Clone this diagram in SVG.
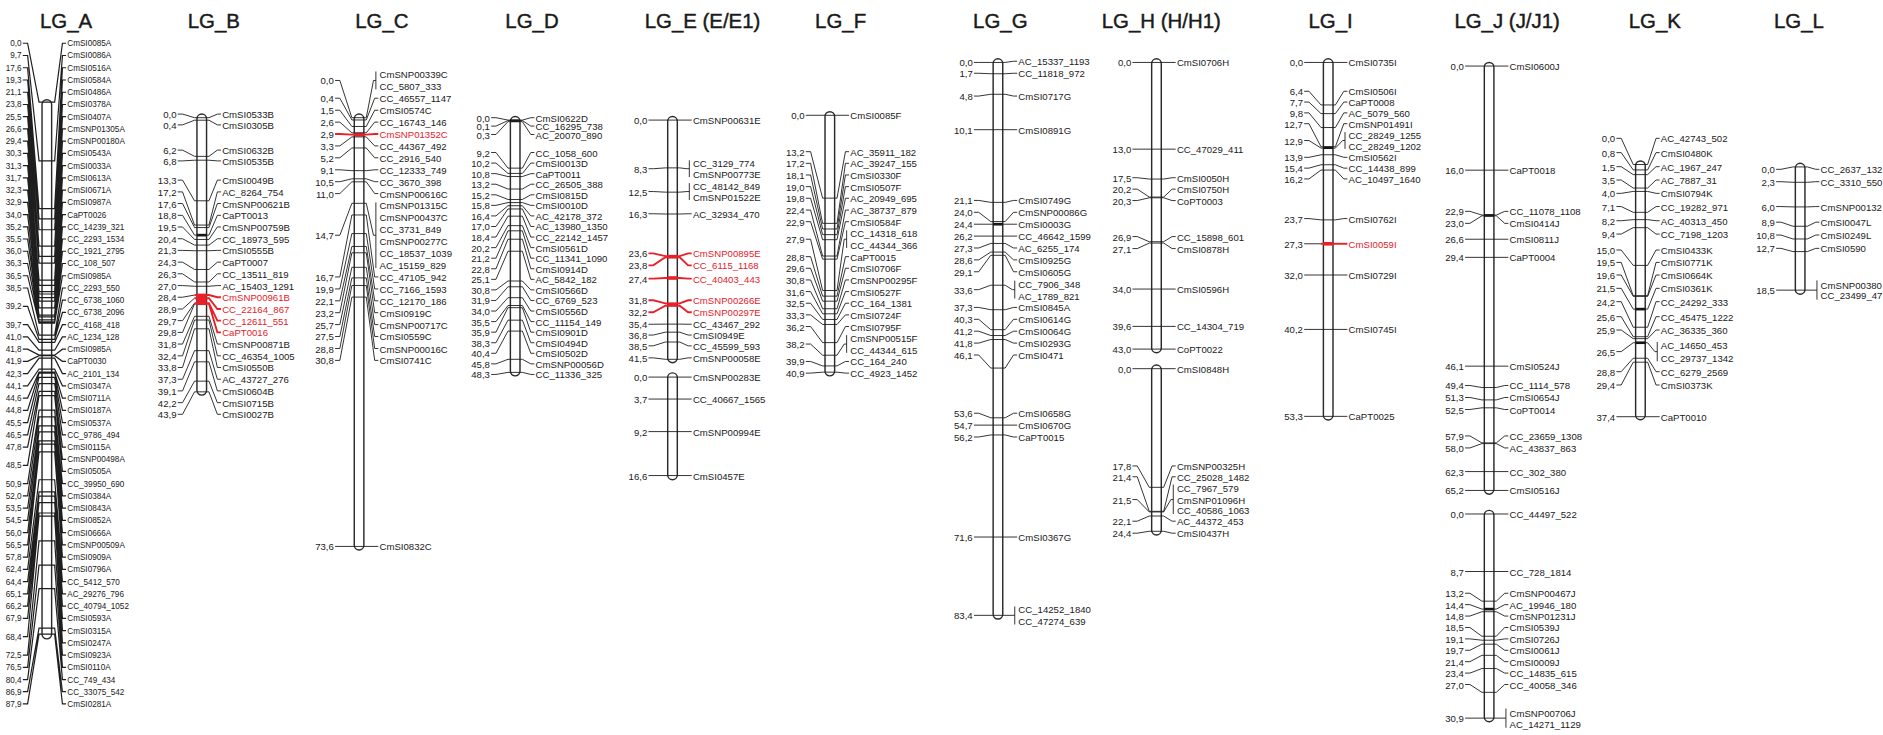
<svg xmlns="http://www.w3.org/2000/svg" width="1883" height="735" viewBox="0 0 1883 735">
<style>
.bar{fill:#fff;stroke:#2a2a2a;stroke-width:1.2}
.c{fill:none;stroke:#1e1e1e;stroke-width:0.75}
.ca{fill:none;stroke:#1e1e1e;stroke-width:1}
.cr{fill:none;stroke:#e8202a;stroke-width:1.6}
.tk{stroke:#111;stroke-width:2.2}
.tr{stroke:#e8202a;stroke-width:3}
text{font-family:"Liberation Sans",Arial,sans-serif;font-size:8px;fill:#1a1a1a;dominant-baseline:central}
.s{font-size:6.8px}
.l{text-anchor:end}
.red{fill:#e8202a}
.ttl{font-size:17px;text-anchor:middle;dominant-baseline:auto;stroke:#1a1a1a;stroke-width:0.35}
</style>
<rect width="1883" height="735" fill="#fff"/>
<g transform="scale(1.2009)">
<g id="LG_A">
<text class="ttl" x="55" y="23">LG_A</text>
<rect class="bar" x="35" y="83" width="8" height="449" rx="4"/>
<text class="s l"><tspan x="18" y="36">0,0</tspan><tspan x="18" y="46.2">9,7</tspan><tspan x="18" y="56.4">17,6</tspan><tspan x="18" y="66.6">19,3</tspan><tspan x="18" y="76.8">21,1</tspan><tspan x="18" y="87">23,8</tspan><tspan x="18" y="97.1">25,5</tspan><tspan x="18" y="107.3">26,6</tspan><tspan x="18" y="117.5">29,4</tspan><tspan x="18" y="127.7">30,3</tspan><tspan x="18" y="137.9">31,3</tspan><tspan x="18" y="148.1">31,7</tspan><tspan x="18" y="158.3">32,3</tspan><tspan x="18" y="168.5">32,9</tspan><tspan x="18" y="178.7">34,0</tspan><tspan x="18" y="188.9">35,2</tspan><tspan x="18" y="199">35,5</tspan><tspan x="18" y="209.2">36,0</tspan><tspan x="18" y="219.4">36,3</tspan><tspan x="18" y="229.6">36,5</tspan><tspan x="18" y="239.8">38,5</tspan><tspan x="18" y="255.1">39,2</tspan><tspan x="18" y="270.4">39,7</tspan><tspan x="18" y="280.6">41,0</tspan><tspan x="18" y="290.8">41,8</tspan><tspan x="18" y="300.9">41,9</tspan><tspan x="18" y="311.1">42,3</tspan><tspan x="18" y="321.3">44,1</tspan><tspan x="18" y="331.5">44,6</tspan><tspan x="18" y="341.7">44,8</tspan><tspan x="18" y="351.9">45,5</tspan><tspan x="18" y="362.1">46,5</tspan><tspan x="18" y="372.3">47,8</tspan><tspan x="18" y="387.5">48,5</tspan><tspan x="18" y="402.8">50,9</tspan><tspan x="18" y="413">52,0</tspan><tspan x="18" y="423.2">53,5</tspan><tspan x="18" y="433.4">54,5</tspan><tspan x="18" y="443.6">56,0</tspan><tspan x="18" y="453.8">56,5</tspan><tspan x="18" y="464">57,8</tspan><tspan x="18" y="474.2">62,4</tspan><tspan x="18" y="484.3">64,4</tspan><tspan x="18" y="494.5">65,1</tspan><tspan x="18" y="504.7">66,2</tspan><tspan x="18" y="514.9">67,9</tspan><tspan x="18" y="530.2">68,4</tspan><tspan x="18" y="545.5">72,5</tspan><tspan x="18" y="555.7">76,5</tspan><tspan x="18" y="565.9">80,4</tspan><tspan x="18" y="576">86,9</tspan><tspan x="18" y="586.2">87,9</tspan></text>
<text class="s"><tspan x="56" y="36">CmSI0085A</tspan><tspan x="56" y="46.2">CmSI0086A</tspan><tspan x="56" y="56.4">CmSI0516A</tspan><tspan x="56" y="66.6">CmSI0584A</tspan><tspan x="56" y="76.8">CmSI0486A</tspan><tspan x="56" y="87">CmSI0378A</tspan><tspan x="56" y="97.1">CmSI0407A</tspan><tspan x="56" y="107.3">CmSNP01305A</tspan><tspan x="56" y="117.5">CmSNP00180A</tspan><tspan x="56" y="127.7">CmSI0543A</tspan><tspan x="56" y="137.9">CmSI0033A</tspan><tspan x="56" y="148.1">CmSI0613A</tspan><tspan x="56" y="158.3">CmSI0671A</tspan><tspan x="56" y="168.5">CmSI0987A</tspan><tspan x="56" y="178.7">CaPT0026</tspan><tspan x="56" y="188.9">CC_14239_321</tspan><tspan x="56" y="199">CC_2293_1534</tspan><tspan x="56" y="209.2">CC_1921_2795</tspan><tspan x="56" y="219.4">CC_108_507</tspan><tspan x="56" y="229.6">CmSI0985A</tspan><tspan x="56" y="239.8">CC_2293_550</tspan><tspan x="56" y="250">CC_6738_1060</tspan><tspan x="56" y="260.2">CC_6738_2096</tspan><tspan x="56" y="270.4">CC_4168_418</tspan><tspan x="56" y="280.6">AC_1234_128</tspan><tspan x="56" y="290.8">CmSI0985A</tspan><tspan x="56" y="300.9">CaPT0030</tspan><tspan x="56" y="311.1">AC_2101_134</tspan><tspan x="56" y="321.3">CmSI0347A</tspan><tspan x="56" y="331.5">CmSI0711A</tspan><tspan x="56" y="341.7">CmSI0187A</tspan><tspan x="56" y="351.9">CmSI0537A</tspan><tspan x="56" y="362.1">CC_9786_494</tspan><tspan x="56" y="372.3">CmSI0115A</tspan><tspan x="56" y="382.5">CmSNP00498A</tspan><tspan x="56" y="392.6">CmSI0505A</tspan><tspan x="56" y="402.8">CC_39950_690</tspan><tspan x="56" y="413">CmSI0384A</tspan><tspan x="56" y="423.2">CmSI0843A</tspan><tspan x="56" y="433.4">CmSI0852A</tspan><tspan x="56" y="443.6">CmSI0666A</tspan><tspan x="56" y="453.8">CmSNP00509A</tspan><tspan x="56" y="464">CmSI0909A</tspan><tspan x="56" y="474.2">CmSI0796A</tspan><tspan x="56" y="484.3">CC_5412_570</tspan><tspan x="56" y="494.5">AC_29276_796</tspan><tspan x="56" y="504.7">CC_40794_1052</tspan><tspan x="56" y="514.9">CmSI0593A</tspan><tspan x="56" y="525.1">CmSI0315A</tspan><tspan x="56" y="535.3">CmSI0247A</tspan><tspan x="56" y="545.5">CmSI0923A</tspan><tspan x="56" y="555.7">CmSI0110A</tspan><tspan x="56" y="565.9">CC_749_434</tspan><tspan x="56" y="576">CC_33075_542</tspan><tspan x="56" y="586.2">CmSI0281A</tspan></text>
</g>
<g id="LG_B">
<text class="ttl" x="178" y="23">LG_B</text>
<rect class="bar" x="164" y="95" width="8" height="234" rx="4"/>
<line class="tk" x1="164" y1="195.8" x2="172" y2="195.8"/>
<rect x="164" y="244.5" width="8" height="9.5" fill="#e8202a"/>
<text class="l"><tspan x="147" y="95">0,0</tspan><tspan x="147" y="104">0,4</tspan><tspan x="147" y="125">6,2</tspan><tspan x="147" y="134">6,8</tspan><tspan x="147" y="150">13,3</tspan><tspan x="147" y="159.8">17,2</tspan><tspan x="147" y="169.5">17,6</tspan><tspan x="147" y="179.3">18,8</tspan><tspan x="147" y="189">19,5</tspan><tspan x="147" y="198.8">20,4</tspan><tspan x="147" y="208.5">21,3</tspan><tspan x="147" y="218.3">24,3</tspan><tspan x="147" y="228">26,3</tspan><tspan x="147" y="237.8">27,0</tspan><tspan x="147" y="247.5">28,4</tspan><tspan x="147" y="257.3">28,9</tspan><tspan x="147" y="267">29,7</tspan><tspan x="147" y="276.8">29,8</tspan><tspan x="147" y="286.5">31,8</tspan><tspan x="147" y="296.3">32,4</tspan><tspan x="147" y="306">33,8</tspan><tspan x="147" y="315.8">37,3</tspan><tspan x="147" y="325.5">39,1</tspan><tspan x="147" y="335.3">42,2</tspan><tspan x="147" y="345">43,9</tspan></text>
<text><tspan x="185" y="95">CmSI0533B</tspan><tspan x="185" y="104">CmSI0305B</tspan><tspan x="185" y="125">CmSI0632B</tspan><tspan x="185" y="134">CmSI0535B</tspan><tspan x="185" y="150">CmSI0049B</tspan><tspan x="185" y="159.8">AC_8264_754</tspan><tspan x="185" y="169.5">CmSNP00621B</tspan><tspan x="185" y="179.3">CaPT0013</tspan><tspan x="185" y="189">CmSNP00759B</tspan><tspan x="185" y="198.8">CC_18973_595</tspan><tspan x="185" y="208.5">CmSI0555B</tspan><tspan x="185" y="218.3">CaPT0007</tspan><tspan x="185" y="228">CC_13511_819</tspan><tspan x="185" y="237.8">AC_15403_1291</tspan><tspan x="185" y="286.5">CmSNP00871B</tspan><tspan x="185" y="296.3">CC_46354_1005</tspan><tspan x="185" y="306">CmSI0550B</tspan><tspan x="185" y="315.8">AC_43727_276</tspan><tspan x="185" y="325.5">CmSI0604B</tspan><tspan x="185" y="335.3">CmSI0715B</tspan><tspan x="185" y="345">CmSI0027B</tspan></text>
<text class="red"><tspan x="185" y="247.5">CmSNP00961B</tspan><tspan x="185" y="257.3">CC_22164_867</tspan><tspan x="185" y="267">CC_12611_551</tspan><tspan x="185" y="276.8">CaPT0016</tspan></text>
</g>
<g id="LG_C">
<text class="ttl" x="318" y="23">LG_C</text>
<rect class="bar" x="295" y="95" width="8" height="363" rx="4"/>
<line class="tr" x1="295" y1="112.1" x2="303" y2="112.1"/>
<text class="l"><tspan x="278" y="67">0,0</tspan><tspan x="278" y="81.8">0,4</tspan><tspan x="278" y="91.8">1,5</tspan><tspan x="278" y="101.7">2,6</tspan><tspan x="278" y="111.6">2,9</tspan><tspan x="278" y="121.5">3,3</tspan><tspan x="278" y="131.4">5,2</tspan><tspan x="278" y="141.4">9,1</tspan><tspan x="278" y="151.3">10,5</tspan><tspan x="278" y="161.2">11,0</tspan><tspan x="278" y="195.9">14,7</tspan><tspan x="278" y="230.6">16,7</tspan><tspan x="278" y="240.6">19,9</tspan><tspan x="278" y="250.5">22,1</tspan><tspan x="278" y="260.4">23,2</tspan><tspan x="278" y="270.3">25,7</tspan><tspan x="278" y="280.2">27,5</tspan><tspan x="278" y="290.2">28,8</tspan><tspan x="278" y="300.1">30,8</tspan><tspan x="278" y="455">73,6</tspan></text>
<text><tspan x="316" y="62">CmSNP00339C</tspan><tspan x="316" y="71.9">CC_5807_333</tspan><tspan x="316" y="81.8">CC_46557_1147</tspan><tspan x="316" y="91.8">CmSI0574C</tspan><tspan x="316" y="101.7">CC_16743_146</tspan><tspan x="316" y="121.5">CC_44367_492</tspan><tspan x="316" y="131.4">CC_2916_540</tspan><tspan x="316" y="141.4">CC_12333_749</tspan><tspan x="316" y="151.3">CC_3670_398</tspan><tspan x="316" y="161.2">CmSNP00616C</tspan><tspan x="316" y="171.1">CmSNP01315C</tspan><tspan x="316" y="181">CmSNP00437C</tspan><tspan x="316" y="191">CC_3731_849</tspan><tspan x="316" y="200.9">CmSNP00277C</tspan><tspan x="316" y="210.8">CC_18537_1039</tspan><tspan x="316" y="220.7">AC_15159_829</tspan><tspan x="316" y="230.6">CC_47105_942</tspan><tspan x="316" y="240.6">CC_7166_1593</tspan><tspan x="316" y="250.5">CC_12170_186</tspan><tspan x="316" y="260.4">CmSI0919C</tspan><tspan x="316" y="270.3">CmSNP00717C</tspan><tspan x="316" y="280.2">CmSI0559C</tspan><tspan x="316" y="290.2">CmSNP00016C</tspan><tspan x="316" y="300.1">CmSI0741C</tspan><tspan x="316" y="455">CmSI0832C</tspan></text>
<text class="red"><tspan x="316" y="111.6">CmSNP01352C</tspan></text>
</g>
<g id="LG_D">
<text class="ttl" x="443" y="23">LG_D</text>
<rect class="bar" x="425" y="97" width="8" height="216" rx="4"/>
<line class="tk" x1="425" y1="100.6" x2="433" y2="100.6"/>
<text class="l"><tspan x="408" y="98">0,0</tspan><tspan x="408" y="105">0,1</tspan><tspan x="408" y="112">0,3</tspan><tspan x="408" y="127">9,2</tspan><tspan x="408" y="135.8">10,2</tspan><tspan x="408" y="144.6">10,8</tspan><tspan x="408" y="153.4">13,2</tspan><tspan x="408" y="162.2">15,2</tspan><tspan x="408" y="171">15,8</tspan><tspan x="408" y="179.8">16,4</tspan><tspan x="408" y="188.6">17,0</tspan><tspan x="408" y="197.4">18,4</tspan><tspan x="408" y="206.2">20,2</tspan><tspan x="408" y="215">21,2</tspan><tspan x="408" y="223.8">22,8</tspan><tspan x="408" y="232.6">25,1</tspan><tspan x="408" y="241.4">30,8</tspan><tspan x="408" y="250.2">31,9</tspan><tspan x="408" y="259">34,0</tspan><tspan x="408" y="267.8">35,5</tspan><tspan x="408" y="276.6">35,9</tspan><tspan x="408" y="285.4">38,3</tspan><tspan x="408" y="294.2">40,4</tspan><tspan x="408" y="303">45,8</tspan><tspan x="408" y="311.8">48,3</tspan></text>
<text><tspan x="446" y="98">CmSI0622D</tspan><tspan x="446" y="105">CC_16295_738</tspan><tspan x="446" y="112">AC_20070_890</tspan><tspan x="446" y="127">CC_1058_600</tspan><tspan x="446" y="135.8">CmSI0013D</tspan><tspan x="446" y="144.6">CaPT0011</tspan><tspan x="446" y="153.4">CC_26505_388</tspan><tspan x="446" y="162.2">CmSI0815D</tspan><tspan x="446" y="171">CmSI0010D</tspan><tspan x="446" y="179.8">AC_42178_372</tspan><tspan x="446" y="188.6">AC_13980_1350</tspan><tspan x="446" y="197.4">CC_22142_1457</tspan><tspan x="446" y="206.2">CmSI0561D</tspan><tspan x="446" y="215">CC_11341_1090</tspan><tspan x="446" y="223.8">CmSI0914D</tspan><tspan x="446" y="232.6">AC_5842_182</tspan><tspan x="446" y="241.4">CmSI0566D</tspan><tspan x="446" y="250.2">CC_6769_523</tspan><tspan x="446" y="259">CmSI0556D</tspan><tspan x="446" y="267.8">CC_11154_149</tspan><tspan x="446" y="276.6">CmSI0901D</tspan><tspan x="446" y="285.4">CmSI0494D</tspan><tspan x="446" y="294.2">CmSI0502D</tspan><tspan x="446" y="303">CmSNP00056D</tspan><tspan x="446" y="311.8">CC_11336_325</tspan></text>
</g>
<g id="LG_E">
<text class="ttl" x="585" y="23">LG_E (E/E1)</text>
<rect class="bar" x="556" y="97" width="8" height="205" rx="4"/>
<rect class="bar" x="556" y="310.5" width="8" height="89" rx="4"/>
<line class="tr" x1="556" y1="213.7" x2="564" y2="213.7"/>
<line class="tr" x1="556" y1="231.5" x2="564" y2="231.5"/>
<line class="tr" x1="556" y1="253.6" x2="564" y2="253.6"/>
<text class="l"><tspan x="539" y="100">0,0</tspan><tspan x="539" y="140.5">8,3</tspan><tspan x="539" y="159.5">12,5</tspan><tspan x="539" y="178">16,3</tspan><tspan x="539" y="211">23,6</tspan><tspan x="539" y="221">23,8</tspan><tspan x="539" y="232">27,4</tspan><tspan x="539" y="250">31,8</tspan><tspan x="539" y="260">32,2</tspan><tspan x="539" y="270">35,4</tspan><tspan x="539" y="279">36,8</tspan><tspan x="539" y="288">38,5</tspan><tspan x="539" y="298">41,5</tspan><tspan x="539" y="314">0,0</tspan><tspan x="539" y="332.3">3,7</tspan><tspan x="539" y="359.4">9,2</tspan><tspan x="539" y="396">16,6</tspan></text>
<text><tspan x="577" y="100">CmSNP00631E</tspan><tspan x="577" y="136">CC_3129_774</tspan><tspan x="577" y="145">CmSNP00773E</tspan><tspan x="577" y="155">CC_48142_849</tspan><tspan x="577" y="164">CmSNP01522E</tspan><tspan x="577" y="178">AC_32934_470</tspan><tspan x="577" y="270">CC_43467_292</tspan><tspan x="577" y="279">CmSI0949E</tspan><tspan x="577" y="288">CC_45599_593</tspan><tspan x="577" y="298">CmSNP00058E</tspan><tspan x="577" y="314">CmSNP00283E</tspan><tspan x="577" y="332.3">CC_40667_1565</tspan><tspan x="577" y="359.4">CmSNP00994E</tspan><tspan x="577" y="396">CmSI0457E</tspan></text>
<text class="red"><tspan x="577" y="211">CmSNP00895E</tspan><tspan x="577" y="221">CC_6115_1168</tspan><tspan x="577" y="232">CC_40403_443</tspan><tspan x="577" y="250">CmSNP00266E</tspan><tspan x="577" y="260">CmSNP00297E</tspan></text>
</g>
<g id="LG_F">
<text class="ttl" x="700" y="23">LG_F</text>
<rect class="bar" x="687" y="93" width="8" height="220" rx="4"/>
<text class="l"><tspan x="670" y="96">0,0</tspan><tspan x="670" y="126.3">13,2</tspan><tspan x="670" y="136">17,2</tspan><tspan x="670" y="145.7">18,1</tspan><tspan x="670" y="155.4">19,0</tspan><tspan x="670" y="165.1">19,8</tspan><tspan x="670" y="174.9">22,4</tspan><tspan x="670" y="184.6">22,9</tspan><tspan x="670" y="199.2">27,9</tspan><tspan x="670" y="213.7">28,8</tspan><tspan x="670" y="223.4">29,6</tspan><tspan x="670" y="233.1">30,8</tspan><tspan x="670" y="242.8">31,6</tspan><tspan x="670" y="252.5">32,5</tspan><tspan x="670" y="262.2">33,3</tspan><tspan x="670" y="271.9">36,2</tspan><tspan x="670" y="286.5">38,2</tspan><tspan x="670" y="301">39,9</tspan><tspan x="670" y="310.7">40,9</tspan></text>
<text><tspan x="708" y="96">CmSI0085F</tspan><tspan x="708" y="126.3">AC_35911_182</tspan><tspan x="708" y="136">AC_39247_155</tspan><tspan x="708" y="145.7">CmSI0330F</tspan><tspan x="708" y="155.4">CmSI0507F</tspan><tspan x="708" y="165.1">AC_20949_695</tspan><tspan x="708" y="174.9">AC_38737_879</tspan><tspan x="708" y="184.6">CmSI0584F</tspan><tspan x="708" y="194.3">CC_14318_618</tspan><tspan x="708" y="204">CC_44344_366</tspan><tspan x="708" y="213.7">CaPT0015</tspan><tspan x="708" y="223.4">CmSI0706F</tspan><tspan x="708" y="233.1">CmSNP00295F</tspan><tspan x="708" y="242.8">CmSI0527F</tspan><tspan x="708" y="252.5">CC_164_1381</tspan><tspan x="708" y="262.2">CmSI0724F</tspan><tspan x="708" y="271.9">CmSI0795F</tspan><tspan x="708" y="281.6">CmSNP00515F</tspan><tspan x="708" y="291.3">CC_44344_615</tspan><tspan x="708" y="301">CC_164_240</tspan><tspan x="708" y="310.7">CC_4923_1452</tspan></text>
</g>
<g id="LG_G">
<text class="ttl" x="833" y="23">LG_G</text>
<rect class="bar" x="827" y="49" width="8" height="466.5" rx="4"/>
<line class="tk" x1="827" y1="186.7" x2="835" y2="186.7"/>
<text class="l"><tspan x="810" y="52">0,0</tspan><tspan x="810" y="61">1,7</tspan><tspan x="810" y="80">4,8</tspan><tspan x="810" y="108">10,1</tspan><tspan x="810" y="166.9">21,1</tspan><tspan x="810" y="176.8">24,0</tspan><tspan x="810" y="186.7">24,4</tspan><tspan x="810" y="196.6">26,2</tspan><tspan x="810" y="206.5">27,3</tspan><tspan x="810" y="216.4">28,6</tspan><tspan x="810" y="226.3">29,1</tspan><tspan x="810" y="241.2">33,6</tspan><tspan x="810" y="256">37,3</tspan><tspan x="810" y="265.9">40,3</tspan><tspan x="810" y="275.8">41,2</tspan><tspan x="810" y="285.7">41,8</tspan><tspan x="810" y="295.6">46,1</tspan><tspan x="810" y="344.1">53,6</tspan><tspan x="810" y="354">54,7</tspan><tspan x="810" y="363.9">56,2</tspan><tspan x="810" y="447.2">71,6</tspan><tspan x="810" y="512.4">83,4</tspan></text>
<text><tspan x="848" y="51">AC_15337_1193</tspan><tspan x="848" y="61">CC_11818_972</tspan><tspan x="848" y="80">CmSI0717G</tspan><tspan x="848" y="108">CmSI0891G</tspan><tspan x="848" y="166.9">CmSI0749G</tspan><tspan x="848" y="176.8">CmSNP00086G</tspan><tspan x="848" y="186.7">CmSI0003G</tspan><tspan x="848" y="196.6">CC_46642_1599</tspan><tspan x="848" y="206.5">AC_6255_174</tspan><tspan x="848" y="216.4">CmSI0925G</tspan><tspan x="848" y="226.3">CmSI0605G</tspan><tspan x="848" y="236.2">CC_7906_348</tspan><tspan x="848" y="246.1">AC_1789_821</tspan><tspan x="848" y="256">CmSI0845A</tspan><tspan x="848" y="265.9">CmSI0614G</tspan><tspan x="848" y="275.8">CmSI0064G</tspan><tspan x="848" y="285.7">CmSI0293G</tspan><tspan x="848" y="295.6">CmSI0471</tspan><tspan x="848" y="344.1">CmSI0658G</tspan><tspan x="848" y="354">CmSI0670G</tspan><tspan x="848" y="363.9">CaPT0015</tspan><tspan x="848" y="447.2">CmSI0367G</tspan><tspan x="848" y="507.5">CC_14252_1840</tspan><tspan x="848" y="517.5">CC_47274_639</tspan></text>
</g>
<g id="LG_H">
<text class="ttl" x="967" y="23">LG_H (H/H1)</text>
<rect class="bar" x="959" y="49" width="8" height="244.7" rx="4"/>
<rect class="bar" x="959" y="304" width="8" height="141.5" rx="4"/>
<text class="l"><tspan x="942" y="52">0,0</tspan><tspan x="942" y="124.2">13,0</tspan><tspan x="942" y="148">17,5</tspan><tspan x="942" y="157.5">20,2</tspan><tspan x="942" y="167">20,3</tspan><tspan x="942" y="197">26,9</tspan><tspan x="942" y="207">27,1</tspan><tspan x="942" y="240.7">34,0</tspan><tspan x="942" y="271.8">39,6</tspan><tspan x="942" y="290.7">43,0</tspan><tspan x="942" y="307">0,0</tspan><tspan x="942" y="388">17,8</tspan><tspan x="942" y="397">21,4</tspan><tspan x="942" y="416">21,5</tspan><tspan x="942" y="434">22,1</tspan><tspan x="942" y="444">24,4</tspan></text>
<text><tspan x="980" y="52">CmSI0706H</tspan><tspan x="980" y="124.2">CC_47029_411</tspan><tspan x="980" y="148">CmSI0050H</tspan><tspan x="980" y="157.5">CmSI0750H</tspan><tspan x="980" y="167">CoPT0003</tspan><tspan x="980" y="197">CC_15898_601</tspan><tspan x="980" y="207">CmSI0878H</tspan><tspan x="980" y="240.7">CmSI0596H</tspan><tspan x="980" y="271.8">CC_14304_719</tspan><tspan x="980" y="290.7">CoPT0022</tspan><tspan x="980" y="307">CmSI0848H</tspan><tspan x="980" y="388">CmSNP00325H</tspan><tspan x="980" y="397">CC_25028_1482</tspan><tspan x="980" y="406">CC_7967_579</tspan><tspan x="980" y="416">CmSNP01096H</tspan><tspan x="980" y="425">CC_40586_1063</tspan><tspan x="980" y="434">AC_44372_453</tspan><tspan x="980" y="444">CmSI0437H</tspan></text>
</g>
<g id="LG_I">
<text class="ttl" x="1108" y="23">LG_I</text>
<rect class="bar" x="1102" y="49" width="8" height="300.7" rx="4"/>
<line class="tk" x1="1102" y1="123" x2="1110" y2="123"/>
<line class="tr" x1="1102" y1="203" x2="1110" y2="203"/>
<text class="l"><tspan x="1085" y="52">0,0</tspan><tspan x="1085" y="76">6,4</tspan><tspan x="1085" y="85">7,7</tspan><tspan x="1085" y="94">9,8</tspan><tspan x="1085" y="103">12,7</tspan><tspan x="1085" y="117">12,9</tspan><tspan x="1085" y="131">13,9</tspan><tspan x="1085" y="140">15,4</tspan><tspan x="1085" y="149">16,2</tspan><tspan x="1085" y="182">23,7</tspan><tspan x="1085" y="203">27,3</tspan><tspan x="1085" y="229">32,0</tspan><tspan x="1085" y="274.3">40,2</tspan><tspan x="1085" y="346.7">53,3</tspan></text>
<text><tspan x="1123" y="52">CmSI0735I</tspan><tspan x="1123" y="76">CmSI0506I</tspan><tspan x="1123" y="85">CaPT0008</tspan><tspan x="1123" y="94">AC_5079_560</tspan><tspan x="1123" y="103">CmSNP01491I</tspan><tspan x="1123" y="112.5">CC_28249_1255</tspan><tspan x="1123" y="121.5">CC_28249_1202</tspan><tspan x="1123" y="131">CmSI0562I</tspan><tspan x="1123" y="140">CC_14438_899</tspan><tspan x="1123" y="149">AC_10497_1640</tspan><tspan x="1123" y="182">CmSI0762I</tspan><tspan x="1123" y="229">CmSI0729I</tspan><tspan x="1123" y="274.3">CmSI0745I</tspan><tspan x="1123" y="346.7">CaPT0025</tspan></text>
<text class="red"><tspan x="1123" y="203">CmSI0059I</tspan></text>
</g>
<g id="LG_J">
<text class="ttl" x="1255" y="23">LG_J (J/J1)</text>
<rect class="bar" x="1236" y="52" width="8" height="359.5" rx="4"/>
<rect class="bar" x="1236" y="425" width="8" height="176" rx="4"/>
<line class="tk" x1="1236" y1="179.4" x2="1244" y2="179.4"/>
<line class="tk" x1="1236" y1="507.2" x2="1244" y2="507.2"/>
<text class="l"><tspan x="1219" y="55">0,0</tspan><tspan x="1219" y="141.7">16,0</tspan><tspan x="1219" y="176">22,9</tspan><tspan x="1219" y="186">23,0</tspan><tspan x="1219" y="199.2">26,6</tspan><tspan x="1219" y="214.3">29,4</tspan><tspan x="1219" y="304.9">46,1</tspan><tspan x="1219" y="321">49,4</tspan><tspan x="1219" y="331">51,3</tspan><tspan x="1219" y="341">52,5</tspan><tspan x="1219" y="363">57,9</tspan><tspan x="1219" y="373">58,0</tspan><tspan x="1219" y="392.7">62,3</tspan><tspan x="1219" y="408.4">65,2</tspan><tspan x="1219" y="428">0,0</tspan><tspan x="1219" y="475.9">8,7</tspan><tspan x="1219" y="494">13,2</tspan><tspan x="1219" y="503.5">14,4</tspan><tspan x="1219" y="513">14,8</tspan><tspan x="1219" y="522.5">18,5</tspan><tspan x="1219" y="532">19,1</tspan><tspan x="1219" y="541.5">19,7</tspan><tspan x="1219" y="551">21,4</tspan><tspan x="1219" y="560.5">23,4</tspan><tspan x="1219" y="570">27,0</tspan><tspan x="1219" y="598">30,9</tspan></text>
<text><tspan x="1257" y="55">CmSI0600J</tspan><tspan x="1257" y="141.7">CaPT0018</tspan><tspan x="1257" y="176">CC_11078_1108</tspan><tspan x="1257" y="186">CmSI0414J</tspan><tspan x="1257" y="199.2">CmSI0811J</tspan><tspan x="1257" y="214.3">CaPT0004</tspan><tspan x="1257" y="304.9">CmSI0524J</tspan><tspan x="1257" y="321">CC_1114_578</tspan><tspan x="1257" y="331">CmSI0654J</tspan><tspan x="1257" y="341">CoPT0014</tspan><tspan x="1257" y="363">CC_23659_1308</tspan><tspan x="1257" y="373">AC_43837_863</tspan><tspan x="1257" y="392.7">CC_302_380</tspan><tspan x="1257" y="408.4">CmSI0516J</tspan><tspan x="1257" y="428">CC_44497_522</tspan><tspan x="1257" y="475.9">CC_728_1814</tspan><tspan x="1257" y="494">CmSNP00467J</tspan><tspan x="1257" y="503.5">AC_19946_180</tspan><tspan x="1257" y="513">CmSNP01231J</tspan><tspan x="1257" y="522.5">CmSI0539J</tspan><tspan x="1257" y="532">CmSI0726J</tspan><tspan x="1257" y="541.5">CmSI0061J</tspan><tspan x="1257" y="551">CmSI0009J</tspan><tspan x="1257" y="560.5">CC_14835_615</tspan><tspan x="1257" y="570">CC_40058_346</tspan><tspan x="1257" y="593.5">CmSNP00706J</tspan><tspan x="1257" y="602.5">AC_14271_1129</tspan></text>
</g>
<g id="LG_K">
<text class="ttl" x="1378" y="23">LG_K</text>
<rect class="bar" x="1362" y="134" width="8" height="215.5" rx="4"/>
<line class="tk" x1="1362" y1="257.4" x2="1370" y2="257.4"/>
<line class="tk" x1="1362" y1="285.4" x2="1370" y2="285.4"/>
<text class="l"><tspan x="1345" y="115.2">0,0</tspan><tspan x="1345" y="127.1">0,8</tspan><tspan x="1345" y="138.8">1,5</tspan><tspan x="1345" y="149.9">3,5</tspan><tspan x="1345" y="161">4,0</tspan><tspan x="1345" y="172">7,1</tspan><tspan x="1345" y="183.8">8,2</tspan><tspan x="1345" y="194.9">9,4</tspan><tspan x="1345" y="208.2">15,0</tspan><tspan x="1345" y="218.5">19,5</tspan><tspan x="1345" y="229">19,6</tspan><tspan x="1345" y="240.1">21,5</tspan><tspan x="1345" y="251.2">24,2</tspan><tspan x="1345" y="263.7">25,6</tspan><tspan x="1345" y="274.8">25,9</tspan><tspan x="1345" y="292.8">26,5</tspan><tspan x="1345" y="309.5">28,8</tspan><tspan x="1345" y="320.6">29,4</tspan><tspan x="1345" y="347">37,4</tspan></text>
<text><tspan x="1383" y="115.2">AC_42743_502</tspan><tspan x="1383" y="127.1">CmSI0480K</tspan><tspan x="1383" y="138.8">AC_1967_247</tspan><tspan x="1383" y="149.9">AC_7887_31</tspan><tspan x="1383" y="161">CmSI0794K</tspan><tspan x="1383" y="172">CC_19282_971</tspan><tspan x="1383" y="183.8">AC_40313_450</tspan><tspan x="1383" y="194.9">CC_7198_1203</tspan><tspan x="1383" y="208.2">CmSI0433K</tspan><tspan x="1383" y="218.5">CmSI0771K</tspan><tspan x="1383" y="229">CmSI0664K</tspan><tspan x="1383" y="240.1">CmSI0361K</tspan><tspan x="1383" y="251.2">CC_24292_333</tspan><tspan x="1383" y="263.7">CC_45475_1222</tspan><tspan x="1383" y="274.8">AC_36335_360</tspan><tspan x="1383" y="287.3">AC_14650_453</tspan><tspan x="1383" y="298.4">CC_29737_1342</tspan><tspan x="1383" y="309.5">CC_6279_2569</tspan><tspan x="1383" y="320.6">CmSI0373K</tspan><tspan x="1383" y="347">CaPT0010</tspan></text>
</g>
<g id="LG_L">
<text class="ttl" x="1498" y="23">LG_L</text>
<rect class="bar" x="1495" y="136" width="8" height="109" rx="4"/>
<text class="l"><tspan x="1478" y="141">0,0</tspan><tspan x="1478" y="151.3">2,3</tspan><tspan x="1478" y="172">6,0</tspan><tspan x="1478" y="185">8,9</tspan><tspan x="1478" y="195.7">10,8</tspan><tspan x="1478" y="206.8">12,7</tspan><tspan x="1478" y="241.6">18,5</tspan></text>
<text><tspan x="1516" y="141">CC_2637_132</tspan><tspan x="1516" y="151.3">CC_3310_550</tspan><tspan x="1516" y="172">CmSNP00132</tspan><tspan x="1516" y="185">CmSI0047L</tspan><tspan x="1516" y="195.7">CmSI0249L</tspan><tspan x="1516" y="206.8">CmSI0590</tspan><tspan x="1516" y="237">CmSNP00380</tspan><tspan x="1516" y="246">CC_23499_47</tspan></text>
</g>
<g id="connectors">
<path class="ca" d="M19 36H23L32.5 85H45.5L52 36H55M19 46.2H23L32.5 133.9H45.5L52 46.2H55M19 56.4H23L32.5 173.7H45.5L52 56.4H55M19 66.6H23L32.5 182.3H45.5L52 66.6H55M19 76.8H23L32.5 191.3H45.5L52 76.8H55M19 87H23L32.5 205H45.5L52 87H55M19 97.1H23L32.5 213.5H45.5L52 97.1H55M19 107.3H23L32.5 219.1H45.5L52 107.3H55M19 117.5H23L32.5 233.2H45.5L52 117.5H55M19 127.7H23L32.5 237.7H45.5L52 127.7H55M19 137.9H23L32.5 242.8H45.5L52 137.9H55M19 148.1H23L32.5 244.8H45.5L52 148.1H55M19 158.3H23L32.5 247.8H45.5L52 158.3H55M19 168.5H23L32.5 250.8H45.5L52 168.5H55M19 178.7H23L32.5 256.4H45.5L52 178.7H55M19 188.9H23L32.5 262.4H45.5L52 188.9H55M19 199H23L32.5 263.9H45.5L52 199H55M19 209.2H23L32.5 266.4H45.5L52 209.2H55M19 219.4H23L32.5 268H45.5L52 219.4H55M19 229.6H23L32.5 269H45.5L52 229.6H55M19 239.8H23L32.5 279H45.5L52 239.8H55M19 255.1H23L32.5 282.6H45.5L52 250H55M45.5 282.6L52 260.2H55M19 270.4H23L32.5 285.1H45.5L52 270.4H55M19 280.6H23L32.5 291.6H45.5L52 280.6H55M19 290.8H23L32.5 295.7H45.5L52 290.8H55M19 300.9H23L32.5 296.2H45.5L52 300.9H55M19 311.1H23L32.5 298.2H45.5L52 311.1H55M19 321.3H23L32.5 307.3H45.5L52 321.3H55M19 331.5H23L32.5 309.8H45.5L52 331.5H55M19 341.7H23L32.5 310.8H45.5L52 341.7H55M19 351.9H23L32.5 314.3H45.5L52 351.9H55M19 362.1H23L32.5 319.4H45.5L52 362.1H55M19 372.3H23L32.5 325.9H45.5L52 372.3H55M19 387.5H23L32.5 329.4H45.5L52 382.5H55M45.5 329.4L52 392.6H55M19 402.8H23L32.5 341.5H45.5L52 402.8H55M19 413H23L32.5 347.1H45.5L52 413H55M19 423.2H23L32.5 354.6H45.5L52 423.2H55M19 433.4H23L32.5 359.7H45.5L52 433.4H55M19 443.6H23L32.5 367.2H45.5L52 443.6H55M19 453.8H23L32.5 369.8H45.5L52 453.8H55M19 464H23L32.5 376.3H45.5L52 464H55M19 474.2H23L32.5 399.5H45.5L52 474.2H55M19 484.3H23L32.5 409.6H45.5L52 484.3H55M19 494.5H23L32.5 413.1H45.5L52 494.5H55M19 504.7H23L32.5 418.6H45.5L52 504.7H55M19 514.9H23L32.5 427.2H45.5L52 514.9H55M19 530.2H23L32.5 429.7H45.5L52 525.1H55M45.5 429.7L52 535.3H55M19 545.5H23L32.5 450.4H45.5L52 545.5H55M19 555.7H23L32.5 470.6H45.5L52 555.7H55M19 565.9H23L32.5 490.2H45.5L52 565.9H55M19 576H23L32.5 523H45.5L52 576H55M19 586.2H23L32.5 528H45.5L52 586.2H55"/>
<path class="c" d="M148 95H152L162 98H174L181 95H184M148 104H152L162 100.1H174L181 104H184M148 125H152L162 130.2H174L181 125H184M148 134H152L162 133.4H174L181 134H184M148 150H152L162 167.2H174L181 150H184M148 159.8H152L162 187.4H174L181 159.8H184M148 169.5H152L162 189.5H174L181 169.5H184M148 179.3H152L162 195.8H174L181 179.3H184M148 189H152L162 199.4H174L181 189H184M148 198.8H152L162 204.1H174L181 198.8H184M148 208.5H152L162 208.8H174L181 208.5H184M148 218.3H152L162 224.4H174L181 218.3H184M148 228H152L162 234.8H174L181 228H184M148 237.8H152L162 238.4H174L181 237.8H184M148 247.5H152L162 245.7M148 257.3H152L162 248.3M148 267H152L162 252.4M148 276.8H152L162 253M148 286.5H152L162 263.4H174L181 286.5H184M148 296.3H152L162 266.5H174L181 296.3H184M148 306H152L162 273.8H174L181 306H184M148 315.8H152L162 292H174L181 315.8H184M148 325.5H152L162 301.3H174L181 325.5H184M148 335.3H152L162 317.4H174L181 335.3H184M148 345H152L162 326.3H174L181 345H184"/>
<path class="cr" d="M162 245.7H174L181 247.5H184M162 248.3H174L181 257.3H184M162 252.4H174L181 267H184M162 253H174L181 276.8H184"/>
<path class="c" d="M279 67H283L293 98H305L311 67H313M313 59.5V74.4M279 81.8H283L293 99.9H305L312 81.8H315M279 91.8H283L293 105.3H305L312 91.8H315M279 101.7H283L293 110.6H305L312 101.7H315M279 121.5H283L293 114H305L312 121.5H315M279 131.4H283L293 123.2H305L312 131.4H315M279 141.4H283L293 142.1H305L312 141.4H315M279 151.3H283L293 148.9H305L312 151.3H315M279 161.2H283L293 151.4H305L312 161.2H315M279 195.9H283L293 169.3H305L311 195.9H313M313 168.6V223.2M279 230.6H283L293 179H305L312 230.6H315M279 240.6H283L293 194.5H305L312 240.6H315M279 250.5H283L293 205.2H305L312 250.5H315M279 260.4H283L293 210.5H305L312 260.4H315M279 270.3H283L293 222.6H305L312 270.3H315M279 280.2H283L293 231.4H305L312 280.2H315M279 290.2H283L293 237.7H305L312 290.2H315M279 300.1H283L293 247.4H305L312 300.1H315M279 455H315"/>
<path class="cr" d="M279 111.6H283L293 112.1H305L312 111.6H315"/>
<path class="c" d="M409 98H413L423 100H435L442 98H445M409 105H413L423 100.4H435L442 105H445M409 112H413L423 101.3H435L442 112H445M409 127H413L423 140H435L442 127H445M409 135.8H413L423 144.4H435L442 135.8H445M409 144.6H413L423 147H435L442 144.6H445M409 153.4H413L423 157.4H435L442 153.4H445M409 162.2H413L423 166.1H435L442 162.2H445M409 171H413L423 168.7H435L442 171H445M409 179.8H413L423 171.3H435L442 179.8H445M409 188.6H413L423 174H435L442 188.6H445M409 197.4H413L423 180H435L442 197.4H445M409 206.2H413L423 187.9H435L442 206.2H445M409 215H413L423 192.2H435L442 215H445M409 223.8H413L423 199.2H435L442 223.8H445M409 232.6H413L423 209.2H435L442 232.6H445M409 241.4H413L423 234H435L442 241.4H445M409 250.2H413L423 238.8H435L442 250.2H445M409 259H413L423 247.9H435L442 259H445M409 267.8H413L423 254.4H435L442 267.8H445M409 276.6H413L423 256.2H435L442 276.6H445M409 285.4H413L423 266.6H435L442 285.4H445M409 294.2H413L423 275.7H435L442 294.2H445M409 303H413L423 299.2H435L442 303H445M409 311.8H413L423 310.1H435L442 311.8H445"/>
<path class="c" d="M540 100H576M540 140.5H544L554 139.8H566L572 140.5H574M574 133.5V147.5M540 159.5H544L554 160H566L572 159.5H574M574 152.5V166.5M540 178H544L554 178.2H566L573 178H576M540 270H544L554 269.9H566L573 270H576M540 279H544L554 276.6H566L573 279H576M540 288H544L554 284.8H566L573 288H576M540 298H544L554 299.2H566L573 298H576M540 314H576M540 332.3H576M540 359.4H576M540 396H576"/>
<path class="cr" d="M540 211H544L554 213.3H566L573 211H576M540 221H544L554 214.2H566L573 221H576M540 232H544L554 231.5H566L573 232H576M540 250H544L554 252.6H566L573 250H576M540 260H544L554 254.6H566L573 260H576"/>
<path class="c" d="M671 96H707M671 126.3H675L685 165H697L704 126.3H707M671 136H675L685 186H697L704 136H707M671 145.7H675L685 190.7H697L704 145.7H707M671 155.4H675L685 195.4H697L704 155.4H707M671 165.1H675L685 199.6H697L704 165.1H707M671 174.9H675L685 213.2H697L704 174.9H707M671 184.6H675L685 215.8H697L704 184.6H707M671 199.2H675L685 241.9H697L703 199.2H705M705 191.8V206.5M671 213.7H675L685 246.6H697L704 213.7H707M671 223.4H675L685 250.8H697L704 223.4H707M671 233.1H675L685 257.1H697L704 233.1H707M671 242.8H675L685 261.3H697L704 242.8H707M671 252.5H675L685 266H697L704 252.5H707M671 262.2H675L685 270.2H697L704 262.2H707M671 271.9H675L685 285.3H697L704 271.9H707M671 286.5H675L685 295.8H697L703 286.5H705M705 279.1V293.8M671 301H675L685 304.7H697L704 301H707M671 310.7H675L685 309.9H697L704 310.7H707"/>
<path class="c" d="M811 52H815L825 52H837L844 51H847M811 61H815L825 61.4H837L844 61H847M811 80H815L825 78.5H837L844 80H847M811 108H847M811 166.9H815L825 168.5H837L844 166.9H847M811 176.8H815L825 184.5H837L844 176.8H847M811 186.7H847M811 196.6H847M811 206.5H815L825 202.7H837L844 206.5H847M811 216.4H815L825 209.9H837L844 216.4H847M811 226.3H815L825 212.6H837L844 226.3H847M811 241.2H815L825 237.5H837L843 241.2H845M845 233.7V248.6M811 256H815L825 257.9H837L844 256H847M811 265.9H815L825 274.5H837L844 265.9H847M811 275.8H815L825 279.4H837L844 275.8H847M811 285.7H815L825 282.7H837L844 285.7H847M811 295.6H815L825 306.5H837L844 295.6H847M811 344.1H815L825 347.9H837L844 344.1H847M811 354H847M811 363.9H815L825 362.2H837L844 363.9H847M811 447.2H847M811 512.4H845M845 505V520"/>
<path class="c" d="M943 52H979M943 124.2H979M943 148H947L957 149.1H969L976 148H979M943 157.5H947L957 164.1H969L976 157.5H979M943 167H947L957 164.7H969L976 167H979M943 197H947L957 201.3H969L976 197H979M943 207H947L957 202.4H969L976 207H979M943 240.7H979M943 271.8H979M943 290.7H979M943 307H979M943 388H947L957 405.8H969L976 388H979M943 397H947L957 425.8H969L976 397H979M943 416H947L957 426.3H969L975 416H977M977 403.5V428M943 434H947L957 429.7H969L976 434H979M943 444H947L957 442.4H969L976 444H979"/>
<path class="c" d="M1086 52H1122M1086 76H1090L1100 87.4H1112L1119 76H1122M1086 85H1090L1100 94.6H1112L1119 85H1122M1086 94H1090L1100 106.2H1112L1119 94H1122M1086 103H1090L1100 122.2H1112L1119 103H1122M1086 117H1090L1100 123.3H1112L1118 117H1120M1120 110V124M1086 131H1090L1100 128.9H1112L1119 131H1122M1086 140H1090L1100 137.2H1112L1119 140H1122M1086 149H1090L1100 141.6H1112L1119 149H1122M1086 182H1090L1100 183.1H1112L1119 182H1122M1086 203H1100M1086 229H1122M1086 274.3H1122M1086 346.7H1122"/>
<path class="cr" d="M1100 203H1122"/>
<path class="c" d="M1220 55H1256M1220 141.7H1256M1220 176H1224L1234 179.1H1246L1253 176H1256M1220 186H1224L1234 179.7H1246L1253 186H1256M1220 199.2H1256M1220 214.3H1256M1220 304.9H1256M1220 321H1224L1234 322.7H1246L1253 321H1256M1220 331H1224L1234 333H1246L1253 331H1256M1220 341H1224L1234 339.6H1246L1253 341H1256M1220 363H1224L1234 368.8H1246L1253 363H1256M1220 373H1224L1234 369.4H1246L1253 373H1256M1220 392.7H1256M1220 408.4H1256M1220 428H1256M1220 475.9H1256M1220 494H1224L1234 500.6H1246L1253 494H1256M1220 503.5H1224L1234 507.2H1246L1253 503.5H1256M1220 513H1224L1234 509.4H1246L1253 513H1256M1220 522.5H1224L1234 529.8H1246L1253 522.5H1256M1220 532H1224L1234 533.1H1246L1253 532H1256M1220 541.5H1224L1234 536.4H1246L1253 541.5H1256M1220 551H1224L1234 545.7H1246L1253 551H1256M1220 560.5H1224L1234 556.7H1246L1253 560.5H1256M1220 570H1224L1234 576.5H1246L1253 570H1256M1220 598H1254M1254 590V606"/>
<path class="c" d="M1346 115.2H1350L1360 137H1372L1379 115.2H1382M1346 127.1H1350L1360 141.5H1372L1379 127.1H1382M1346 138.8H1350L1360 145.4H1372L1379 138.8H1382M1346 149.9H1350L1360 156.6H1372L1379 149.9H1382M1346 161H1350L1360 159.4H1372L1379 161H1382M1346 172H1350L1360 176.8H1372L1379 172H1382M1346 183.8H1350L1360 182.9H1372L1379 183.8H1382M1346 194.9H1350L1360 189.6H1372L1379 194.9H1382M1346 208.2H1350L1360 221H1372L1379 208.2H1382M1346 218.5H1350L1360 246.2H1372L1379 218.5H1382M1346 229H1350L1360 246.8H1372L1379 229H1382M1346 240.1H1350L1360 257.4H1372L1379 240.1H1382M1346 251.2H1350L1360 272.5H1372L1379 251.2H1382M1346 263.7H1350L1360 280.4H1372L1379 263.7H1382M1346 274.8H1350L1360 282H1372L1379 274.8H1382M1346 292.8H1350L1360 285.4H1372L1378 292.8H1380M1380 284.8V300.9M1346 309.5H1350L1360 298.3H1372L1379 309.5H1382M1346 320.6H1350L1360 301.6H1372L1379 320.6H1382M1346 347H1382"/>
<path class="c" d="M1479 141H1483L1493 139H1505L1512 141H1515M1479 151.3H1483L1493 151.8H1505L1512 151.3H1515M1479 172H1483L1493 172.3H1505L1512 172H1515M1479 185H1483L1493 188.4H1505L1512 185H1515M1479 195.7H1483L1493 199H1505L1512 195.7H1515M1479 206.8H1483L1493 209.5H1505L1512 206.8H1515M1479 241.6H1513M1513 233.5V249.5"/>
</g>
</g>
</svg>
